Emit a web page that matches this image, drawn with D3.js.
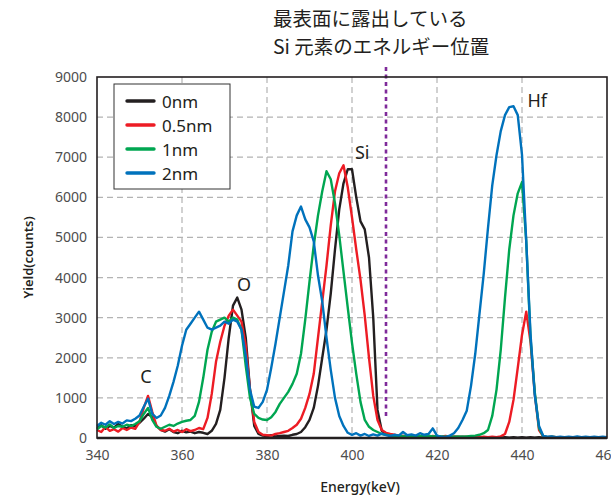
<!DOCTYPE html>
<html>
<head>
<meta charset="utf-8">
<title>Yield vs Energy</title>
<script src="https://cdn.jsdelivr.net/npm/d3@7"></script>
<style>
  body { margin: 0; background: #fff; }
  text { font-family: "Noto Sans", "Open Sans", sans-serif; }
</style>
</head>
<body>
<div id="chart"></div>
<script>
// ---------------- DATA ----------------
// energy grid, 1 keV step from 340 to 460
const energies = d3.range(340, 461);

const yield0nm = [
  250,320,230,300,260,350,280,240,320,300,
  380,480,600,520,300,200,160,220,150,120,
  180,140,160,120,150,130,100,180,350,700,
  1500,2500,3300,3500,3200,2500,1200,300,100,60,
  50,70,40,50,60,50,80,100,150,270,
  450,750,1300,2000,2700,3600,4700,5700,6350,6700,
  6700,6000,5400,5200,4500,3000,700,180,100,60,
  40,30,50,20,40,30,20,40,30,20,
  30,20,30,20,10,20,30,20,10,20,
  20,10,20,10,20,10,20,10,20,10,
  20,10,20,10,20,10,10,20,10,10,
  10,20,10,10,20,10,10,20,10,10,
  10
];

const yield05nm = [
  200,150,280,180,220,160,250,200,260,230,
  400,750,1050,650,300,200,180,230,160,200,
  150,220,170,200,250,220,500,1100,1900,2400,
  2800,3050,3200,3050,2900,2300,1200,400,150,80,
  70,60,100,120,150,180,250,330,480,750,
  1100,1600,2500,3400,4300,5300,6150,6600,6800,6250,
  5500,4700,3950,3050,2000,1050,450,200,130,100,
  80,60,50,40,60,30,50,40,30,50,
  40,30,50,30,40,30,20,30,20,30,
  20,30,20,30,20,40,100,400,950,1750,
  2570,3150,2400,1100,200,40,20,30,20,10,
  20,10,20,10,20,10,20,10,10,20,
  10
];

const yield1nm = [
  220,300,260,340,250,300,280,330,300,350,
  420,600,750,450,280,230,280,330,300,360,
  400,430,450,550,900,1500,2200,2650,2900,2950,
  3000,2900,3000,2950,2700,1800,1000,600,500,460,
  450,520,650,850,1000,1150,1350,1600,2100,2950,
  3900,4800,5550,6150,6650,6450,5850,5050,4150,3250,
  2370,1600,900,450,280,200,150,100,80,60,
  50,60,40,50,60,40,50,40,60,40,
  50,40,30,40,30,40,30,40,50,60,
  80,120,200,550,1200,2200,3500,4700,5550,6100,
  6380,4900,2500,1150,250,40,20,30,20,10,
  20,10,20,10,20,10,20,10,10,20,
  10
];

const yield2nm = [
  300,380,330,420,350,400,360,440,420,480,
  560,780,980,600,500,560,750,1050,1400,1800,
  2300,2700,2850,3000,3150,2950,2750,2700,2750,2800,
  2900,2850,2950,2900,2700,2050,1200,780,750,900,
  1200,1750,2350,3000,3650,4300,5150,5550,5770,5450,
  5250,4900,4050,3400,2500,1700,1000,550,300,130,
  80,120,60,100,50,90,60,110,70,50,
  80,60,150,70,90,60,120,80,100,240,
  60,30,20,60,120,250,450,680,1300,2100,
  3100,4100,5240,6300,7050,7650,8050,8250,8270,8050,
  7060,4900,2600,1070,300,50,30,40,20,30,
  20,30,20,40,20,30,20,30,20,30,
  20
];

const seriesNames = ["0nm", "0.5nm", "1nm", "2nm"];
const seriesValues = [yield0nm, yield05nm, yield1nm, yield2nm];
const seriesColors = ["#231f20", "#ed1c24", "#00a651", "#0072bc"];

const xTicks = [340, 360, 380, 400, 420, 440, 460];
const yTicks = [0, 1000, 2000, 3000, 4000, 5000, 6000, 7000, 8000, 9000];

const peakNames = ["C", "O", "Si", "Hf"];
const peakEnergies = [351.5, 374.6, 402.4, 443.6];
const peakYields = [1550, 3840, 7130, 8430];

const surfaceSiEnergy = 408;
const noteLines = ["最表面に露出している", "Si 元素のエネルギー位置"];

// ---------------- LAYOUT ----------------
const W = 611, H = 497;
const pLeft = 97, pRight = 607, pTop = 77, pBottom = 438;

const svg = d3.select("#chart").append("svg")
  .attr("width", W).attr("height", H);

const x = d3.scaleLinear().domain([340, 460]).range([pLeft, pRight]);
const y = d3.scaleLinear().domain([0, 9000]).range([pBottom, pTop]);

// grid
svg.append("g").selectAll("line")
  .data(xTicks.slice(1, -1)).join("line")
  .attr("x1", d => x(d)).attr("x2", d => x(d))
  .attr("y1", pTop).attr("y2", pBottom)
  .attr("stroke", "#b3b3b3").attr("stroke-width", 1.2)
  .attr("stroke-dasharray", "6,4");

svg.append("g").selectAll("line")
  .data(yTicks.slice(1, -1)).join("line")
  .attr("x1", pLeft).attr("x2", pRight)
  .attr("y1", d => y(d)).attr("y2", d => y(d))
  .attr("stroke", "#b3b3b3").attr("stroke-width", 1.2)
  .attr("stroke-dasharray", "6,4");

// axes (labels only)
const xAxis = svg.append("g")
  .attr("transform", "translate(0," + pBottom + ")")
  .call(d3.axisBottom(x).tickValues(xTicks).tickFormat(d3.format("d"))
    .tickSize(0).tickPadding(12));
const yAxis = svg.append("g")
  .attr("transform", "translate(" + pLeft + ",0)")
  .call(d3.axisLeft(y).tickValues(yTicks).tickFormat(d3.format("d"))
    .tickSize(0).tickPadding(10));
[xAxis, yAxis].forEach(a => {
  a.select(".domain").remove();
  a.selectAll("text")
    .style("font-family", "'Noto Sans', sans-serif")
    .style("font-size", "14px")
    .attr("fill", "#4d4d4d");
});

// surface Si energy marker
svg.append("line")
  .attr("x1", x(surfaceSiEnergy)).attr("x2", x(surfaceSiEnergy))
  .attr("y1", y(9250)).attr("y2", y(500))
  .attr("stroke", "#7f2a9a").attr("stroke-width", 2.6)
  .attr("stroke-dasharray", "4,3.5");

// lines
const line = d3.line()
  .x((d, i) => x(energies[i]))
  .y(d => y(d));

svg.append("g").selectAll("path")
  .data(seriesValues).join("path")
  .attr("d", d => line(d))
  .attr("fill", "none")
  .attr("stroke", (d, i) => seriesColors[i])
  .attr("stroke-width", 2.4)
  .attr("stroke-linejoin", "round");

// frame
svg.append("rect")
  .attr("x", pLeft).attr("y", pTop)
  .attr("width", pRight - pLeft).attr("height", pBottom - pTop)
  .attr("fill", "none").attr("stroke", "#231f20").attr("stroke-width", 1.6);
svg.append("line")
  .attr("x1", pLeft).attr("x2", pRight)
  .attr("y1", pBottom).attr("y2", pBottom)
  .attr("stroke", "#231f20").attr("stroke-width", 2.6);

// peak labels
svg.append("g").selectAll("text")
  .data(peakNames).join("text")
  .attr("x", (d, i) => x(peakEnergies[i]))
  .attr("y", (d, i) => y(peakYields[i]))
  .attr("text-anchor", "middle")
  .attr("dominant-baseline", "central")
  .attr("font-size", 18)
  .attr("fill", "#231f20")
  .text(d => d);

// annotation
svg.append("g").selectAll("text")
  .data(noteLines).join("text")
  .attr("x", 273)
  .attr("y", (d, i) => 26 + i * 28)
  .style("font-family", "'Noto Sans CJK JP', sans-serif")
  .attr("font-size", 19.5)
  .attr("fill", "#231f20")
  .text(d => d);

// legend
const lg = svg.append("g").attr("transform", "translate(114,84)");
lg.append("rect")
  .attr("width", 116).attr("height", 105)
  .attr("fill", "#fff").attr("stroke", "#333").attr("stroke-width", 1);
const rows = lg.selectAll("g.row")
  .data(seriesNames).join("g")
  .attr("class", "row")
  .attr("transform", (d, i) => "translate(0," + (17 + i * 24) + ")");
rows.append("line")
  .attr("x1", 13).attr("x2", 40)
  .attr("stroke", (d, i) => seriesColors[i])
  .attr("stroke-width", 3.4).attr("stroke-linecap", "round");
rows.append("text")
  .attr("x", 48)
  .attr("dominant-baseline", "central")
  .attr("font-size", 17)
  .attr("fill", "#231f20")
  .text(d => d);

// axis titles
svg.append("text")
  .attr("transform", "translate(33," + ((pTop + pBottom) / 2) + ") rotate(-90)")
  .attr("text-anchor", "middle")
  .attr("font-size", 13).attr("font-weight", 600)
  .attr("fill", "#231f20")
  .text("Yield(counts)");
svg.append("text")
  .attr("x", 360).attr("y", 492)
  .attr("text-anchor", "middle")
  .attr("font-size", 14).attr("font-weight", 500)
  .attr("fill", "#231f20")
  .text("Energy(keV)");
</script>
</body>
</html>
